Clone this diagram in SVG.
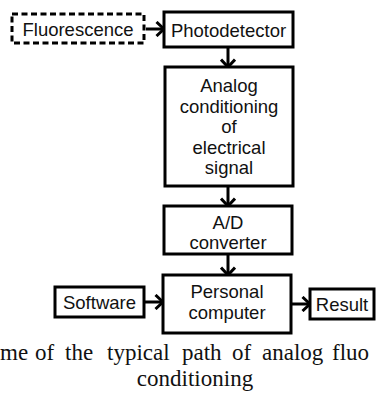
<svg xmlns="http://www.w3.org/2000/svg" width="377" height="396" viewBox="0 0 377 396">
  <style>
    .box { fill: #fff; stroke: #000; stroke-width: 3; }
    .dash { stroke-dasharray: 6 3.5; }
    .lbl { font-family: "Liberation Sans", Arial, sans-serif; font-size: 18.5px; fill: #111; text-anchor: middle; }
    .wire { stroke: #000; stroke-width: 3; fill: none; marker-end: url(#chev); }
    .cap { font-family: "Liberation Serif", "Times New Roman", serif; font-size: 23px; fill: #111; }
  </style>
  <defs>
    <marker id="chev" viewBox="0 0 10 16" refX="9" refY="8" markerWidth="10" markerHeight="16" orient="auto" markerUnits="userSpaceOnUse">
      <path d="M1.5,1 L9,8 L1.5,15" fill="none" stroke="#000" stroke-width="3"/>
    </marker>
  </defs>
  <rect width="377" height="396" fill="#fff"/>

  <g id="connectors">
    <line class="wire" x1="146" y1="29" x2="164" y2="29"/>
    <line class="wire" x1="228" y1="48" x2="228" y2="67"/>
    <line class="wire" x1="228" y1="187" x2="228" y2="206"/>
    <line class="wire" x1="228" y1="255" x2="228" y2="275"/>
    <line class="wire" x1="145" y1="302" x2="163" y2="302"/>
    <line class="wire" x1="292" y1="304" x2="310" y2="304"/>
  </g>

  <g id="fluorescence">
    <rect class="box dash" x="12" y="14" width="132" height="29"/>
    <text class="lbl" x="78" y="35.5">Fluorescence</text>
  </g>
  <g id="photodetector">
    <rect class="box" x="164" y="12" width="129" height="35"/>
    <text class="lbl" x="228.5" y="36.5">Photodetector</text>
  </g>
  <g id="analog">
    <rect class="box" x="165" y="67" width="128" height="119"/>
    <text class="lbl" x="229" y="91.5">Analog</text>
    <text class="lbl" x="229" y="112.5">conditioning</text>
    <text class="lbl" x="229" y="132.5">of</text>
    <text class="lbl" x="229" y="153.5">electrical</text>
    <text class="lbl" x="229" y="173.5">signal</text>
  </g>
  <g id="adc">
    <rect class="box" x="164" y="206" width="128" height="48"/>
    <text class="lbl" x="228" y="228.5">A/D</text>
    <text class="lbl" x="228" y="248.5">converter</text>
  </g>
  <g id="pc">
    <rect class="box" x="163" y="275" width="128" height="58"/>
    <text class="lbl" x="227" y="297.5">Personal</text>
    <text class="lbl" x="227" y="318.5">computer</text>
  </g>
  <g id="software">
    <rect class="box" x="55" y="287" width="89" height="30"/>
    <text class="lbl" x="99.5" y="308.5">Software</text>
  </g>
  <g id="result">
    <rect class="box" x="310" y="289" width="64" height="30"/>
    <text class="lbl" x="342" y="310.5">Result</text>
  </g>

  <!-- justified caption line: words placed individually -->
  <g id="caption">
    <text class="cap" x="0" y="360">me</text>
    <text class="cap" x="35" y="360">of</text>
    <text class="cap" x="65" y="360">the</text>
    <text class="cap" x="107" y="360">typical</text>
    <text class="cap" x="182" y="360">path</text>
    <text class="cap" x="232" y="360">of</text>
    <text class="cap" x="262" y="360">analog</text>
    <text class="cap" x="332" y="360">fluo</text>
    <text class="cap" x="195" y="386" text-anchor="middle">conditioning</text>
  </g>
</svg>
